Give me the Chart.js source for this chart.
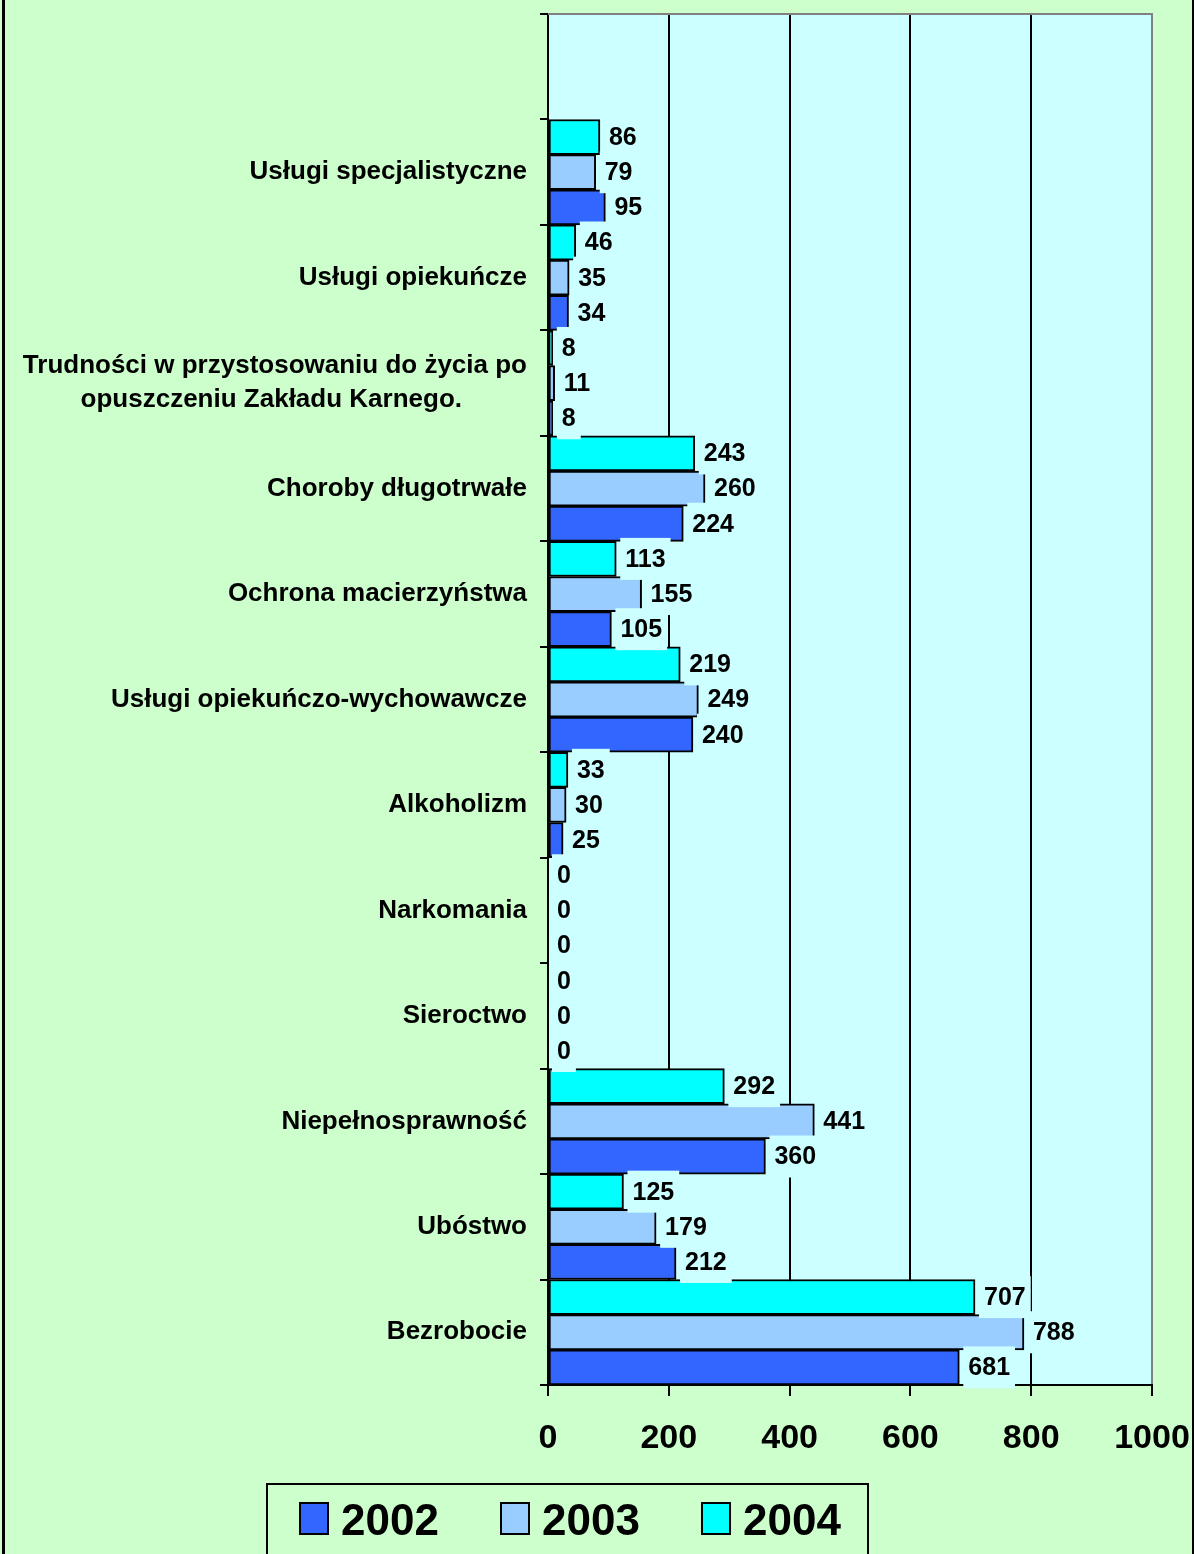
<!DOCTYPE html>
<html>
<head>
<meta charset="utf-8">
<script src="https://cdn.jsdelivr.net/npm/chart.js@4.4.1/dist/chart.umd.min.js"></script>
<style>
  body { margin: 0; background: #CCFFCC; }
  #wrap { position: relative; width: 1194px; height: 1554px; overflow: hidden; }
  #legend {
    position: absolute; left: 266px; top: 1483px; width: 568px; height: 90px;
    border: 2px solid #000; display: flex; padding-left: 31px; box-sizing: content-box;
    font: bold 44px Arial, sans-serif; color: #000;
  }
  .item { flex: 0 0 201px; display: flex; align-items: flex-start; padding-top: 17px; }
  .sw { flex: none; width: 26px; height: 29px; border: 2px solid #000; margin-right: 12px; }
  .lbl { line-height: 33px; margin-top: 1px; }
</style>
</head>
<body>
<div id="wrap">
  <canvas id="c" width="1194" height="1554"></canvas>
  <div id="legend"></div>
</div>
<script>
// categories, top to bottom (first one is an empty slot like in the original)
const categories = [
  '',
  'Usługi specjalistyczne',
  'Usługi opiekuńcze',
  ['Trudności w przystosowaniu do życia po', 'opuszczeniu Zakładu Karnego.         '],
  'Choroby długotrwałe',
  'Ochrona macierzyństwa',
  'Usługi opiekuńczo-wychowawcze',
  'Alkoholizm',
  'Narkomania',
  'Sieroctwo',
  'Niepełnosprawność',
  'Ubóstwo',
  'Bezrobocie'
];
const years = ['2002', '2003', '2004'];
const colors = ['#3366FF', '#99CCFF', '#00FFFF'];
const v2002 = [null, 95, 34, 8, 224, 105, 240, 25, 0, 0, 360, 212, 681];
const v2003 = [null, 79, 35, 11, 260, 155, 249, 30, 0, 0, 441, 179, 788];
const v2004 = [null, 86, 46, 8, 243, 113, 219, 33, 0, 0, 292, 125, 707];
const xTicks = [0, 200, 400, 600, 800, 1000];

const values = [v2002, v2003, v2004];

// legend in html, 2002 first
const leg = document.getElementById('legend');
years.forEach((y, i) => {
  const it = document.createElement('div');
  it.className = 'item';
  it.innerHTML = '<div class="sw" style="background:' + colors[i] + '"></div><div class="lbl">' + y + '</div>';
  leg.appendChild(it);
});

const bgPlugin = {
  id: 'bg',
  beforeDraw(chart) {
    const { ctx, chartArea: a, width, height } = chart;
    ctx.save();
    ctx.fillStyle = '#CCFFCC';
    ctx.fillRect(0, 0, width, height);
    ctx.fillStyle = '#CCFFFF';
    ctx.fillRect(a.left, a.top, a.right - a.left, a.bottom - a.top);
    ctx.fillStyle = '#000';
    ctx.fillRect(2, 0, 3, height);
    ctx.fillRect(1192, 0, 2, height);
    ctx.restore();
  },
  beforeDatasetsDraw(chart) {
    const { ctx, chartArea: a } = chart;
    ctx.save();
    ctx.strokeStyle = '#808080';
    ctx.lineWidth = 2;
    ctx.beginPath();
    ctx.moveTo(a.left, a.top);
    ctx.lineTo(a.right + 1, a.top);
    ctx.stroke();
    ctx.restore();
  }
};

const labelPlugin = {
  id: 'vals',
  afterDatasetsDraw(chart) {
    const ctx = chart.ctx;
    ctx.save();
    ctx.font = 'bold 25px Arial';
    ctx.textBaseline = 'middle';
    chart.data.datasets.forEach((ds, i) => {
      const meta = chart.getDatasetMeta(i);
      meta.data.forEach((bar, j) => {
        const v = ds.data[j];
        if (v == null) return;
        const t = String(v);
        const w = ctx.measureText(t).width;
        const x = bar.x + 9;
        ctx.fillStyle = '#CCFFFF';
        ctx.fillRect(x - 5, bar.y - 21, w + 10, 42);
        ctx.fillStyle = '#000';
        ctx.fillText(t, x, bar.y + 1);
      });
    });
    ctx.restore();
  }
};

// datasets reversed so that 2004 sits on top inside each group
const datasets = [2, 1, 0].map(i => ({
  label: years[i],
  data: values[i],
  backgroundColor: colors[i],
  borderColor: '#000',
  borderWidth: 2,
  borderSkipped: false,
  categoryPercentage: 1,
  barPercentage: 1
}));

new Chart(document.getElementById('c'), {
  type: 'bar',
  data: { labels: categories, datasets: datasets },
  options: {
    indexAxis: 'y',
    responsive: false,
    animation: false,
    devicePixelRatio: 1,
    layout: { padding: { top: 14, right: 42, left: 0, bottom: 0 } },
    plugins: { legend: { display: false }, tooltip: { enabled: false } },
    scales: {
      x: {
        min: 0,
        max: 1000,
        afterBuildTicks(scale) { scale.ticks = xTicks.map(v => ({ value: v })); },
        afterFit(scale) {
          scale.height = 169;
          scale.paddingLeft = 0;
          scale.paddingRight = 0;
        },
        border: { color: '#000', width: 2 },
        grid: {
          color: c => (c.tick && c.tick.value === 1000 ? '#808080' : '#000'),
          tickColor: '#000',
          lineWidth: 2,
          tickLength: 11
        },
        ticks: {
          color: '#000',
          padding: 22,
          callback: v => String(v),
          font: { family: 'Arial', size: 34, weight: 'bold' }
        }
      },
      y: {
        afterFit(scale) {
          scale.width = 548;
          scale.paddingTop = 0;
          scale.paddingBottom = 0;
        },
        border: { color: '#000', width: 2 },
        grid: {
          offset: true,
          drawOnChartArea: false,
          color: '#000',
          lineWidth: 2,
          tickLength: 8
        },
        ticks: {
          color: '#000',
          padding: 13,
          font: { family: 'Arial', size: 26, weight: 'bold', lineHeight: 1.3 }
        }
      }
    }
  },
  plugins: [bgPlugin, labelPlugin]
});
</script>
</body>
</html>
